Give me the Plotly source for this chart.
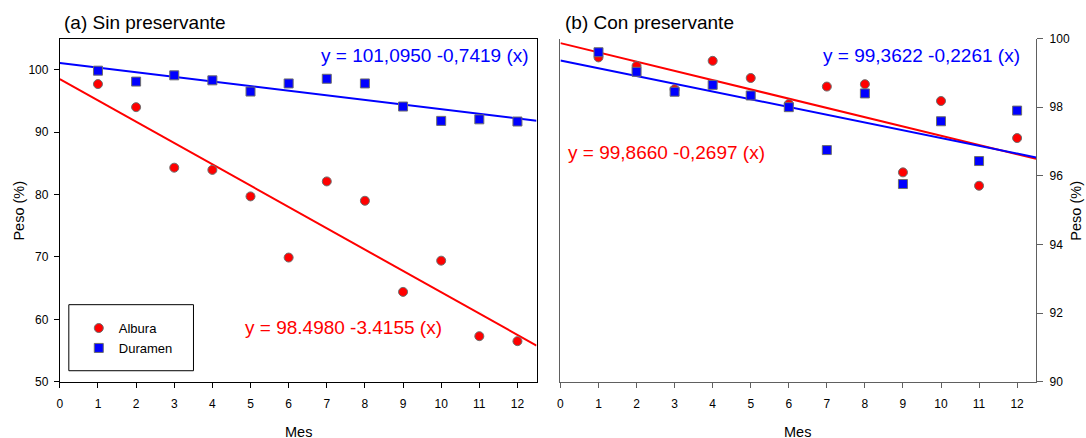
import plotly.graph_objects as go

W, H = 1086, 446
FONT = "Liberation Sans, Arial, sans-serif"

# ---------------- data ----------------
meses = [1, 2, 3, 4, 5, 6, 7, 8, 9, 10, 11, 12]

# (a) Sin preservante
a_albura = [97.7, 94.0, 84.3, 83.95, 79.7, 69.9, 82.1, 79.0, 64.4, 69.4, 57.3, 56.5]
a_duramen = [99.85, 98.1, 99.1, 98.3, 96.5, 97.8, 98.55, 97.8, 94.1, 91.8, 92.05, 91.7]
# (b) Con preservante
b_albura = [99.45, 99.2, 98.52, 99.35, 98.85, 98.09, 98.6, 98.67, 96.1, 98.18, 95.71, 97.1]
b_duramen = [99.6, 99.03, 98.45, 98.65, 98.34, 98.0, 96.75, 98.4, 95.76, 97.59, 96.43, 97.9]

# regression coefficients (intercept, slope)
a_albura_fit = (98.4980, -3.4155)
a_duramen_fit = (101.0950, -0.7419)
b_albura_fit = (99.8660, -0.2697)
b_duramen_fit = (99.3622, -0.2261)

x_fit = [0, 12.5]

RED = "#FF0000"
BLUE = "#0000FF"
OUTLINE = "#6E6E6E"


def px(x):
    return x / W


def fy_of(y):
    # target vertical pixel -> figure pixel (compensates capture offset)
    return (y - 6.5) / 0.968


def py(y):
    return 1 - fy_of(y) / H


def pyf(fy):
    return 1 - fy / H


def fit_line(coef):
    b0, b1 = coef
    return [b0 + b1 * x for x in x_fit]


fig = go.Figure()

# regression lines
for coef, col, xa, ya in [
    (a_albura_fit, RED, "x", "y"),
    (a_duramen_fit, BLUE, "x", "y"),
    (b_albura_fit, RED, "x2", "y2"),
    (b_duramen_fit, BLUE, "x2", "y2"),
]:
    fig.add_trace(go.Scatter(x=x_fit, y=fit_line(coef), mode="lines",
                             line=dict(color=col, width=2), xaxis=xa, yaxis=ya,
                             showlegend=False, hoverinfo="skip"))

# markers
for vals, name, sym, col, xa, ya, show in [
    (a_albura, "Albura", "circle", RED, "x", "y", True),
    (a_duramen, "Duramen", "square", BLUE, "x", "y", True),
    (b_albura, "Albura", "circle", RED, "x2", "y2", False),
    (b_duramen, "Duramen", "square", BLUE, "x2", "y2", False),
]:
    fig.add_trace(go.Scatter(x=meses, y=vals, mode="markers", name=name,
                             marker=dict(symbol=sym, size=9, color=col,
                                         line=dict(color=OUTLINE, width=1)),
                             xaxis=xa, yaxis=ya, showlegend=show))

tickfont = dict(family=FONT, size=12, color="black")

common_x = dict(range=[0, 12.5], tickmode="linear", tick0=0, dtick=1,
                ticks="outside", ticklen=5, showgrid=False, zeroline=False,
                showline=True, linewidth=1, tickfont=tickfont,
                ticklabelstandoff=6)

fig.update_layout(
    width=W, height=H,
    margin=dict(l=0, r=0, t=0, b=0),
    paper_bgcolor="white", plot_bgcolor="white",
    font=dict(family=FONT, color="black"),
    xaxis=dict(**common_x, domain=[px(57), px(535)], anchor="y",
               linecolor="black", tickcolor="black", mirror=True),
    yaxis=dict(domain=[py(381), py(38)], range=[50, 105], anchor="x",
               tickvals=[50, 60, 70, 80, 90, 100], ticks="outside", ticklen=5,
               showgrid=False, zeroline=False, showline=True, linewidth=1,
               linecolor="black", tickcolor="black", mirror=True,
               tickfont=tickfont, ticklabelstandoff=3),
    xaxis2=dict(**common_x, domain=[px(559), px(1036)], anchor="y2",
                linecolor="#606060", tickcolor="#606060", mirror=False),
    yaxis2=dict(domain=[py(381), py(38)], range=[90, 100], anchor="x2",
                side="right", tickvals=[90, 92, 94, 96, 98, 100],
                ticks="outside", ticklen=6, showgrid=False, zeroline=False,
                showline=True, linewidth=1, linecolor="#606060",
                tickcolor="#606060", mirror=True, tickfont=tickfont,
                ticklabelstandoff=4),
    legend=dict(x=px(76), y=pyf(316), xanchor="left", yanchor="top",
                bgcolor="rgba(0,0,0,0)", borderwidth=0,
                font=dict(family=FONT, size=13, color="black"),
                tracegroupgap=0),
    showlegend=True,
)

# legend frame
fig.add_shape(type="rect", xref="paper", yref="paper",
              x0=px(66), x1=px(191), y0=py(370), y1=py(304),
              line=dict(color="black", width=1), fillcolor="rgba(0,0,0,0)")

ann = []
# titles
ann.append(dict(text="(a) Sin preservante", x=px(59), y=py(22), xanchor="left",
                yanchor="middle", font=dict(size=19, color="black")))
ann.append(dict(text="(b) Con preservante", x=px(562), y=py(22), xanchor="left",
                yanchor="middle", font=dict(size=19, color="black")))
# equations
ann.append(dict(text="y = 101,0950 -0,7419 (x)", x=px(529), y=py(55),
                xanchor="right", yanchor="middle", font=dict(size=19, color=BLUE)))
ann.append(dict(text="y = 98.4980 -3.4155 (x)", x=px(241), y=py(327),
                xanchor="left", yanchor="middle", font=dict(size=19, color=RED)))
ann.append(dict(text="y = 99,3622 -0,2261 (x)", x=px(1022), y=py(55),
                xanchor="right", yanchor="middle", font=dict(size=19, color=BLUE)))
ann.append(dict(text="y = 99,8660 -0,2697 (x)", x=px(565), y=py(152),
                xanchor="left", yanchor="middle", font=dict(size=19, color=RED)))
# axis titles
ann.append(dict(text="Mes", x=px(296), y=py(431), xanchor="center",
                yanchor="middle", font=dict(size=14.5, color="black")))
ann.append(dict(text="Mes", x=px(797), y=py(431), xanchor="center",
                yanchor="middle", font=dict(size=14.5, color="black")))
ann.append(dict(text="Peso (%)", x=px(16), y=py(210), xanchor="center",
                yanchor="middle", textangle=-90,
                font=dict(size=14.5, color="black")))
ann.append(dict(text="Peso (%)", x=px(1076), y=py(210), xanchor="center",
                yanchor="middle", textangle=-90,
                font=dict(size=14.5, color="black")))

for a in ann:
    a.update(xref="paper", yref="paper", showarrow=False)
    a["font"]["family"] = FONT
fig.update_layout(annotations=ann)

fig.write_html("out.html", config={"displayModeBar": False},
               post_script="document.body.style.margin='0px';"
                           "document.body.style.overflow='hidden';")
